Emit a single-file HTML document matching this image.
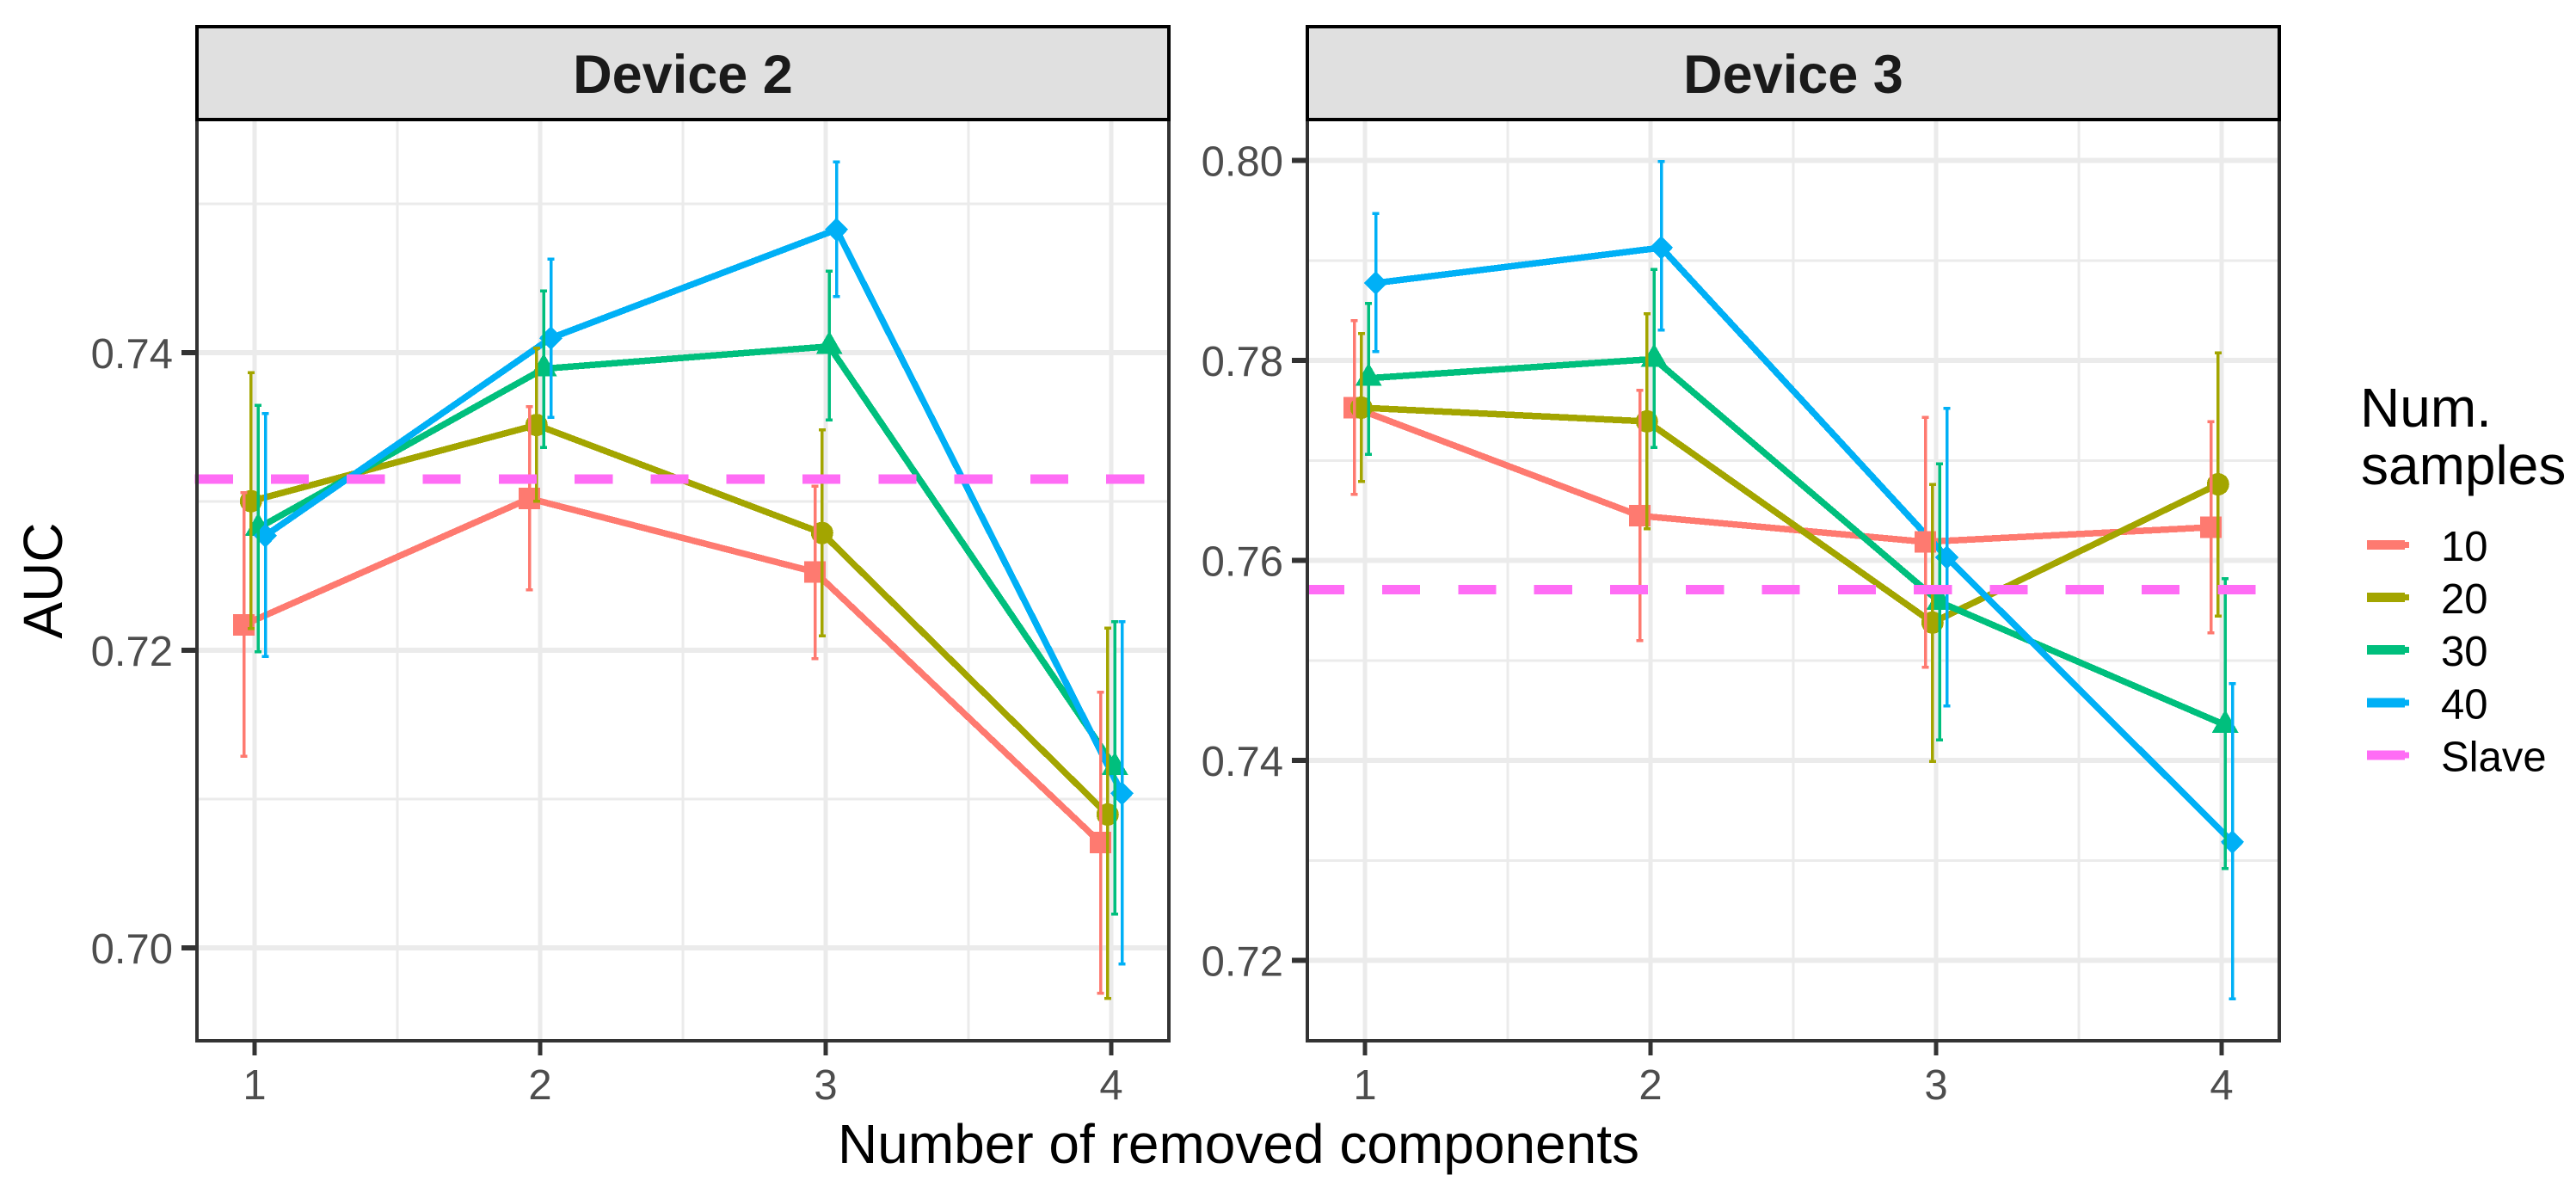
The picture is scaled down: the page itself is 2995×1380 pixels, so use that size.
<!DOCTYPE html>
<html>
<head>
<meta charset="utf-8">
<title>AUC by number of removed components</title>
<style>
html,body{margin:0;padding:0;background:#fff;}
svg{display:block;}
text{font-family:"Liberation Sans",sans-serif;}
.mark{shape-rendering:crispEdges;}
</style>
</head>
<body>
<svg id="chart" xmlns="http://www.w3.org/2000/svg" width="2995" height="1380" viewBox="0 0 2995 1380">
<rect x="0" y="0" width="2995" height="1380" fill="#ffffff"/>
<g id="root"></g>
<text x="72" y="675" font-size="64" fill="#000" text-anchor="middle" transform="rotate(-90 72 675)">AUC</text>
<text x="1440" y="1352" font-size="64" fill="#000" text-anchor="middle">Number of removed components</text>
<text x="2744" y="496" font-size="64" fill="#000">Num.</text>
<text x="2745" y="563" font-size="64" fill="#000">samples</text>
</svg>
<script>
const categories = [1, 2, 3, 4];
const seriesNames = ['10', '20', '30', '40'];
const legendLabels = ['10', '20', '30', '40', 'Slave'];
const seriesColors = ['#FE7A70', '#A3A500', '#00BF7D', '#00B0F6'];
const slaveColor = '#FF6CF5';

const device2Ticks = [0.70, 0.72, 0.74];
const device2TickLabels = ['0.70', '0.72', '0.74'];
const device2Minor = [0.71, 0.73, 0.75];
const device3Ticks = [0.72, 0.74, 0.76, 0.78, 0.80];
const device3TickLabels = ['0.72', '0.74', '0.76', '0.78', '0.80'];
const device3Minor = [0.73, 0.75, 0.77, 0.79];
const xTickLabels = ['1', '2', '3', '4'];
const xMinor = [1.5, 2.5, 3.5];

const device2Slave = 0.7315;
const device3Slave = 0.7571;

const d2Mean10 = [0.72171, 0.7302, 0.72526, 0.70707];
const d2Upper10 = [0.73059, 0.73636, 0.73104, 0.71719];
const d2Lower10 = [0.71289, 0.72405, 0.71944, 0.69694];
const d2Mean20 = [0.73002, 0.73514, 0.72788, 0.70896];
const d2Upper20 = [0.73867, 0.74029, 0.7348, 0.72148];
const d2Lower20 = [0.72145, 0.73002, 0.72098, 0.69659];
const d2Mean30 = [0.72821, 0.73892, 0.74042, 0.71214];
const d2Upper30 = [0.73647, 0.74414, 0.74549, 0.72191];
const d2Lower30 = [0.7199, 0.73364, 0.73549, 0.70228];
const d2Mean40 = [0.7277, 0.74098, 0.74827, 0.71038];
const d2Upper40 = [0.7359, 0.7463, 0.75283, 0.72191];
const d2Lower40 = [0.71957, 0.73566, 0.74376, 0.69892];

const d3Mean10 = [0.77528, 0.76447, 0.76186, 0.76332];
const d3Upper10 = [0.78397, 0.777, 0.77433, 0.7739];
const d3Lower10 = [0.76659, 0.75197, 0.7493, 0.75276];
const d3Mean20 = [0.77528, 0.77391, 0.75379, 0.76762];
const d3Upper20 = [0.78268, 0.78466, 0.76762, 0.78078];
const d3Lower20 = [0.76788, 0.76315, 0.73989, 0.75446];
const d3Mean30 = [0.77823, 0.78015, 0.75584, 0.74354];
const d3Upper30 = [0.78571, 0.78909, 0.76968, 0.75818];
const d3Lower30 = [0.77063, 0.77132, 0.74207, 0.72917];
const d3Mean40 = [0.78775, 0.79128, 0.76031, 0.73184];
const d3Upper40 = [0.7947, 0.79988, 0.77523, 0.74767];
const d3Lower40 = [0.78087, 0.78302, 0.74546, 0.71616];

const NS = 'http://www.w3.org/2000/svg';
const root = document.getElementById('root');
function make(tag, attrs, parent) {
  const el = document.createElementNS(NS, tag);
  for (const k in attrs) el.setAttribute(k, attrs[k]);
  (parent || root).appendChild(el);
  return el;
}
const dodge = [-12.5, -4.2, 4.2, 12.5];

function drawPanel(p) {
  const x = (c) => p.x1 + (c - 1) * 332;
  const y = (v) => p.y0 + (p.v0 - v) * p.k;

  const panel = make('g', {});
  
  

  const clipId = p.id + '-clip';
  const defs = make('defs', {}, panel);
  const clip = make('clipPath', { id: clipId }, defs);
  make('rect', { x: p.left - 3, y: 139, width: p.right - p.left + 3, height: 1071 }, clip);

  const grid = make('g', { 'clip-path': 'url(#' + clipId + ')', class: 'mark' }, panel);
  
  
  p.minor.forEach((v) => {
    const el = make('line', { x1: p.left, x2: p.right, y1: y(v), y2: y(v), stroke: '#EBEBEB', 'stroke-width': 3 }, grid);
    
    
  });
  xMinor.forEach((c) => {
    const el = make('line', { x1: x(c), x2: x(c), y1: 139, y2: 1210, stroke: '#EBEBEB', 'stroke-width': 3 }, grid);
    
    
  });
  p.ticks.forEach((v) => {
    const el = make('line', { x1: p.left, x2: p.right, y1: y(v), y2: y(v), stroke: '#EBEBEB', 'stroke-width': 6 }, grid);
    
    
  });
  categories.forEach((c) => {
    const el = make('line', { x1: x(c), x2: x(c), y1: 139, y2: 1210, stroke: '#EBEBEB', 'stroke-width': 5 }, grid);
    
    
  });

  const marks = make('g', { 'clip-path': 'url(#' + clipId + ')' }, panel);
  
  

  // lines
  p.means.forEach((vals, s) => {
    const pts = vals.map((v, i) => (x(categories[i]) + dodge[s]) + ',' + y(v)).join(' ');
    const el = make('polyline', { points: pts, fill: 'none', stroke: seriesColors[s], 'stroke-width': 7.5, 'stroke-linejoin': 'round', class: 'mark' }, marks);
    
    
  });
  // points
  p.means.forEach((vals, s) => {
    vals.forEach((v, i) => {
      const cx = x(categories[i]) + dodge[s];
      const cy = y(v);
      const col = seriesColors[s];
      let el;
      if (s === 0) {
        el = make('rect', { x: cx - 12.5, y: cy - 12.5, width: 25, height: 25, fill: col, class: 'mark' }, marks);
      } else if (s === 1) {
        el = make('circle', { cx: cx, cy: cy, r: 13, fill: col, class: 'mark' }, marks);
      } else if (s === 2) {
        el = make('polygon', { points: cx + ',' + (cy - 18) + ' ' + (cx - 15.5) + ',' + (cy + 9) + ' ' + (cx + 15.5) + ',' + (cy + 9), fill: col, class: 'mark' }, marks);
      } else {
        el = make('polygon', { points: cx + ',' + (cy - 14) + ' ' + (cx + 13.5) + ',' + cy + ' ' + cx + ',' + (cy + 14) + ' ' + (cx - 13.5) + ',' + cy, fill: col, class: 'mark' }, marks);
      }
      
      
    });
  });
  // error bars
  p.means.forEach((vals, s) => {
    vals.forEach((v, i) => {
      const cx = x(categories[i]) + dodge[s];
      const col = seriesColors[s];
      const g = make('g', { class: 'mark', stroke: col }, marks);
      
      
      const yu = y(p.uppers[s][i]);
      const yl = y(p.lowers[s][i]);
      make('line', { x1: cx, x2: cx, y1: yu, y2: yl, 'stroke-width': 3.5 }, g);
      make('line', { x1: cx - 4, x2: cx + 4, y1: yu, y2: yu, 'stroke-width': 3.5 }, g);
      make('line', { x1: cx - 4, x2: cx + 4, y1: yl, y2: yl, 'stroke-width': 3.5 }, g);
    });
  });
  // slave reference
  const ref = make('line', {
    x1: p.dashStart, x2: p.right, y1: y(p.slave), y2: y(p.slave),
    stroke: slaveColor, 'stroke-width': 11, 'stroke-dasharray': '44.2 44.1', class: 'mark'
  }, marks);
  
  

  // panel border
  const border = make('rect', { x: p.left, y: 139, width: p.right - p.left, height: 1071, fill: 'none', stroke: '#333333', 'stroke-width': 4, class: 'mark' }, panel);
  
  

  // strip
  const strip = make('rect', { x: p.left, y: 31, width: p.right - p.left, height: 108, fill: '#E0E0E0', stroke: '#000000', 'stroke-width': 4, class: 'mark' }, panel);
  
  
  const stripText = make('text', { x: (p.left + p.right) / 2, y: 108, 'font-size': 63, 'font-weight': 'bold', fill: '#1A1A1A', 'text-anchor': 'middle' }, panel);
  stripText.textContent = p.title;
  
  

  // y axis
  p.ticks.forEach((v, i) => {
    const t = make('line', { x1: p.left - 18, x2: p.left, y1: y(v), y2: y(v), stroke: '#333333', 'stroke-width': 6, class: 'mark' }, panel);
    
    
    const l = make('text', { x: p.left - 28, y: y(v) + 18, 'font-size': 49, fill: '#4D4D4D', 'text-anchor': 'end' }, panel);
    l.textContent = p.tickLabels[i];
    
    
  });
  // x axis
  categories.forEach((c, i) => {
    const t = make('line', { x1: x(c), x2: x(c), y1: 1210, y2: 1227, stroke: '#333333', 'stroke-width': 5, class: 'mark' }, panel);
    
    
    const l = make('text', { x: x(c), y: 1278, 'font-size': 49, fill: '#4D4D4D', 'text-anchor': 'middle' }, panel);
    l.textContent = xTickLabels[i];
    
    
  });
}

drawPanel({
  id: 'device-2', title: 'Device 2', left: 229, right: 1359, x1: 296, dashStart: 226.6,
  y0: 756, v0: 0.72, k: 17300,
  ticks: device2Ticks, tickLabels: device2TickLabels, minor: device2Minor, slave: device2Slave,
  means: [d2Mean10, d2Mean20, d2Mean30, d2Mean40],
  uppers: [d2Upper10, d2Upper20, d2Upper30, d2Upper40],
  lowers: [d2Lower10, d2Lower20, d2Lower30, d2Lower40]
});
drawPanel({
  id: 'device-3', title: 'Device 3', left: 1520, right: 2650, x1: 1587, dashStart: 1518.7,
  y0: 1116.6, v0: 0.72, k: 11625,
  ticks: device3Ticks, tickLabels: device3TickLabels, minor: device3Minor, slave: device3Slave,
  means: [d3Mean10, d3Mean20, d3Mean30, d3Mean40],
  uppers: [d3Upper10, d3Upper20, d3Upper30, d3Upper40],
  lowers: [d3Lower10, d3Lower20, d3Lower30, d3Lower40]
});

// legend
legendLabels.forEach((label, i) => {
  const col = i < 4 ? seriesColors[i] : slaveColor;
  const cy = 633.3 + i * 61.2;
  const g = make('g', {});
  
  
  make('rect', { x: 2752, y: cy - 5.5, width: 44, height: 11, fill: col, class: 'mark' }, g);
  make('rect', { x: 2796, y: cy - 3.5, width: 5, height: 7, fill: col, class: 'mark' }, g);
  const t = make('text', { x: 2838, y: cy + 18.5, 'font-size': 49, fill: '#000' }, g);
  t.textContent = label;
});
</script>
</body>
</html>
